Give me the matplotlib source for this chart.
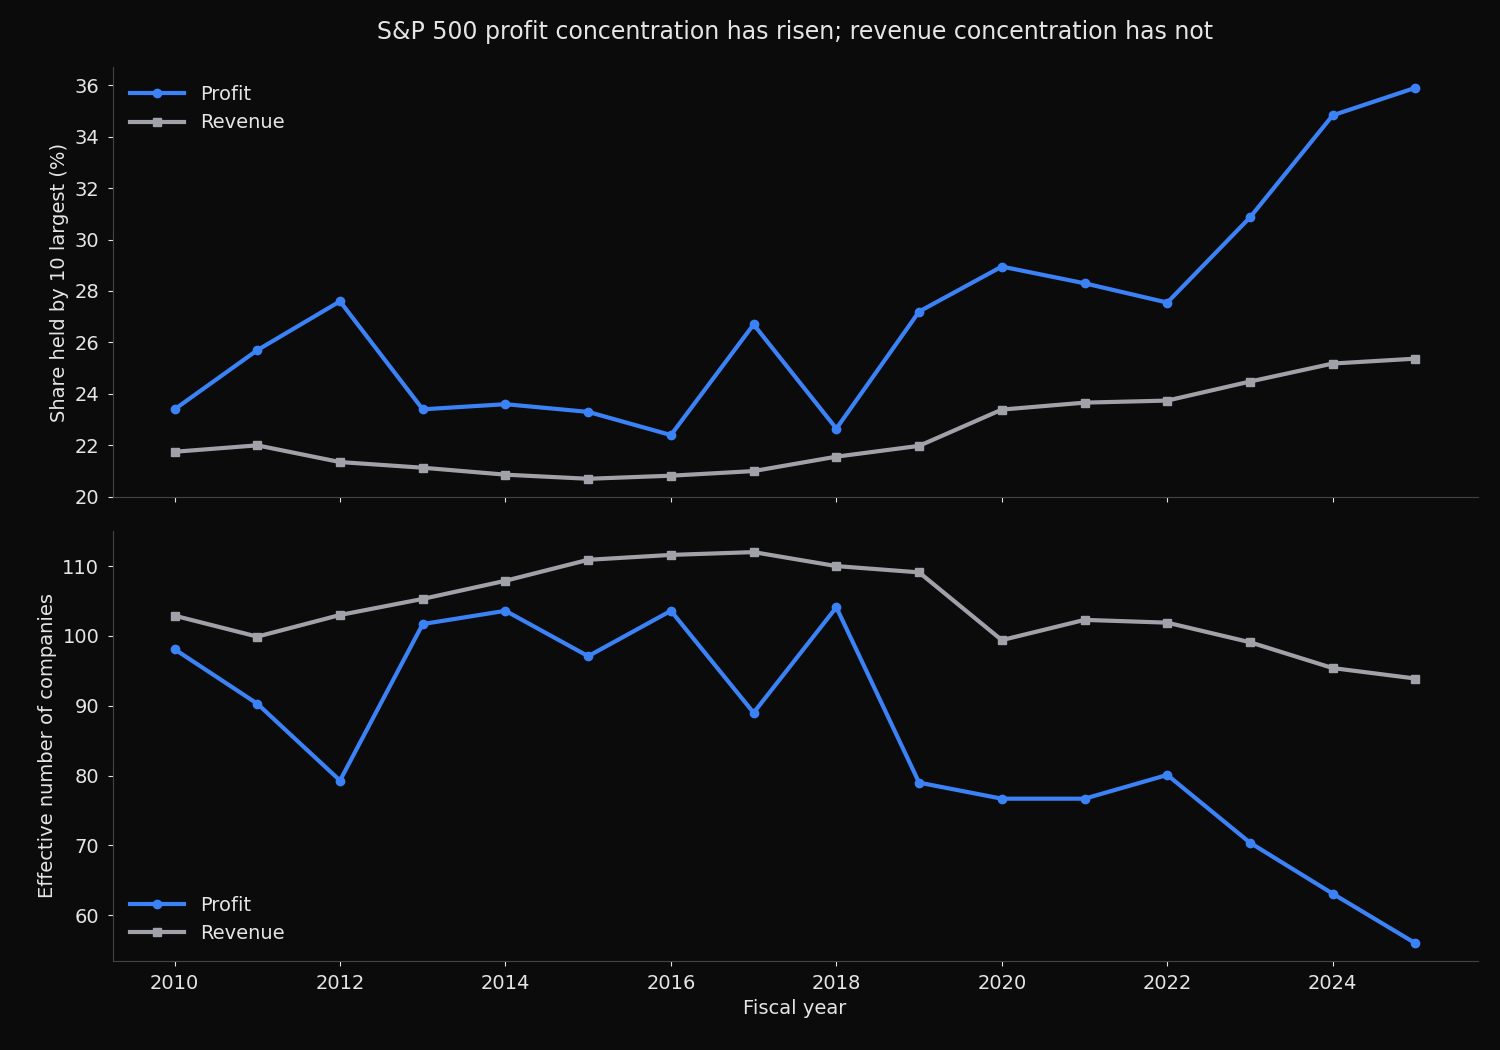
import matplotlib
matplotlib.use('Agg')
import matplotlib.pyplot as plt

years = list(range(2010, 2026))

# share of total held by the 10 largest companies (%)
profit_share = [23.4, 25.7, 27.6, 23.4, 23.6, 23.3, 22.4, 26.7, 22.65, 27.2,
                28.95, 28.3, 27.55, 30.86, 34.83, 35.9]
revenue_share = [21.75, 22.0, 21.35, 21.13, 20.86, 20.7, 20.82, 21.0, 21.56, 21.98,
                 23.39, 23.66, 23.74, 24.48, 25.18, 25.37]

# effective number of companies
profit_eff = [98.1, 90.3, 79.3, 101.7, 103.6, 97.1, 103.6, 89.0, 104.1, 79.0,
              76.7, 76.7, 80.1, 70.4, 63.1, 56.0]
revenue_eff = [102.9, 99.9, 103.0, 105.3, 107.9, 110.9, 111.6, 112.0, 110.0, 109.1,
               99.4, 102.3, 101.9, 99.1, 95.4, 93.9]

BG = '#0b0b0b'
BLUE = '#3b82f6'
GRAY = '#a1a1aa'
TXT = '#e5e5e5'

fig, (ax1, ax2) = plt.subplots(2, 1, figsize=(15, 10.5), dpi=100, sharex=True)
fig.patch.set_facecolor(BG)
fig.subplots_adjust(left=0.075, right=0.985, top=0.936, bottom=0.085, hspace=0.08)

for ax in (ax1, ax2):
    ax.set_facecolor(BG)
    for s in ('top', 'right'):
        ax.spines[s].set_visible(False)
    for s in ('left', 'bottom'):
        ax.spines[s].set_color('#444444')
    ax.tick_params(colors=TXT, labelsize=14, pad=6)

leg_kw = dict(frameon=False, labelcolor=TXT, fontsize=14, handlelength=2.8)

ax1.plot(years, profit_share, color=BLUE, lw=3, marker='o', ms=6, label='Profit')
ax1.plot(years, revenue_share, color=GRAY, lw=3, marker='s', ms=6, label='Revenue')
ax1.set_ylim(20, 36.7)
ax1.set_yticks(range(20, 37, 2))
ax1.set_ylabel('Share held by 10 largest (%)', color=TXT, fontsize=14)
ax1.legend(loc='upper left', **leg_kw)
ax1.set_title('S&P 500 profit concentration has risen; revenue concentration has not',
              color=TXT, fontsize=17, pad=20)

ax2.plot(years, profit_eff, color=BLUE, lw=3, marker='o', ms=6, label='Profit')
ax2.plot(years, revenue_eff, color=GRAY, lw=3, marker='s', ms=6, label='Revenue')
ax2.set_ylim(53.5, 115)
ax2.set_yticks(range(60, 111, 10))
ax2.set_ylabel('Effective number of companies', color=TXT, fontsize=14)
ax2.set_xlabel('Fiscal year', color=TXT, fontsize=14)
ax2.set_xticks(range(2010, 2026, 2))
ax2.set_xlim(2009.25, 2025.75)
ax2.legend(loc='lower left', **leg_kw)

fig.savefig('out.png', facecolor=BG)
